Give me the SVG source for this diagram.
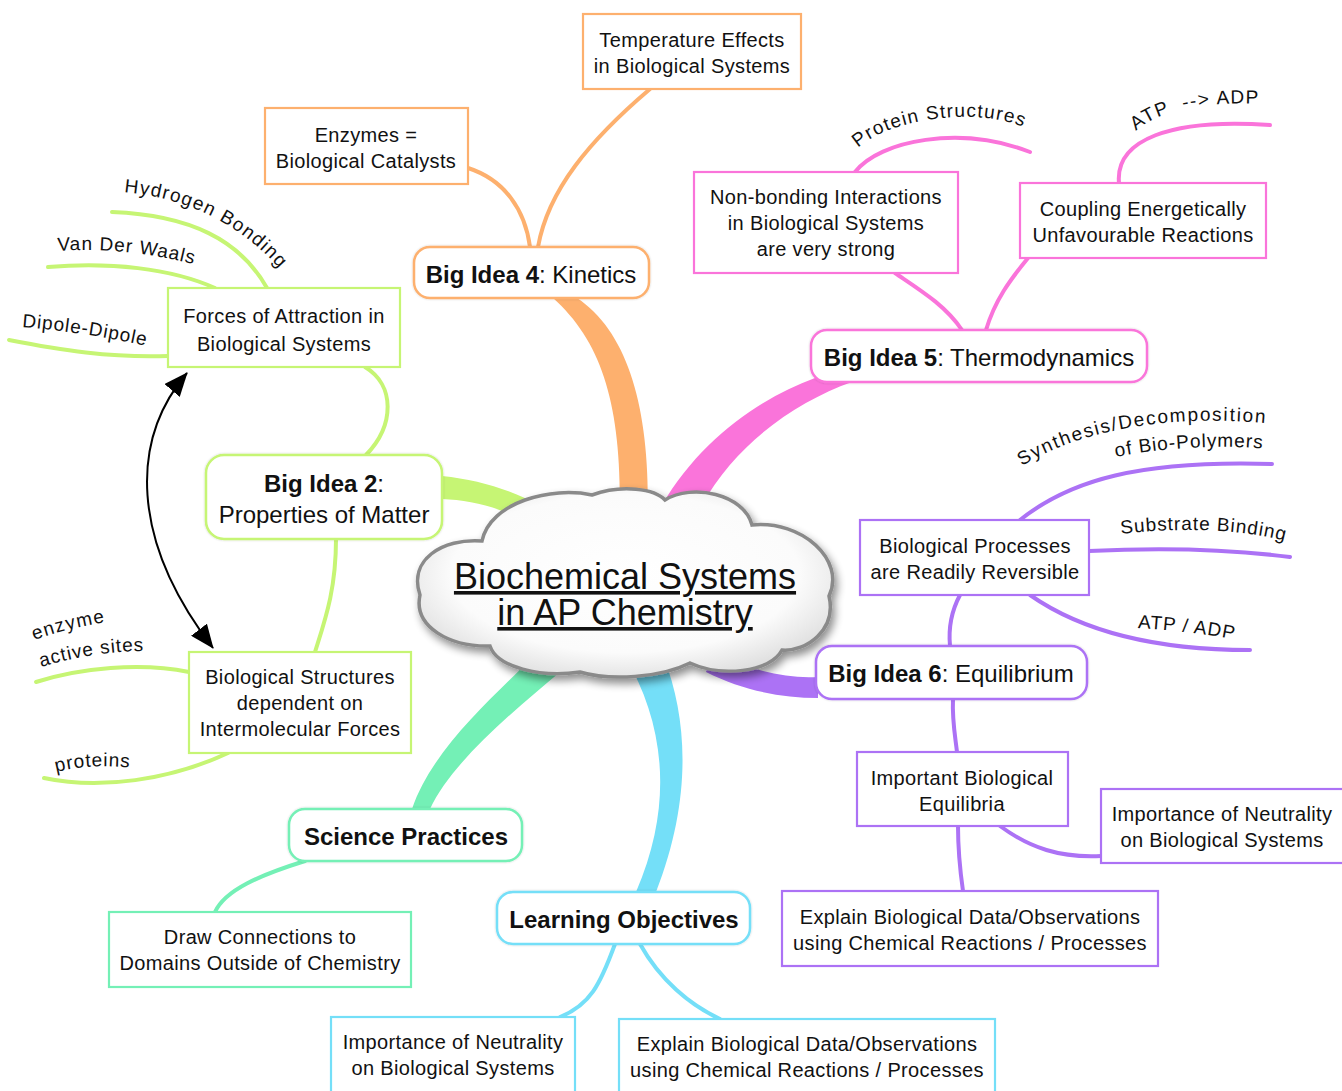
<svg xmlns="http://www.w3.org/2000/svg" width="1342" height="1091" viewBox="0 0 1342 1091">
<defs>
<radialGradient id="cloudFill" cx="50%" cy="45%" r="60%">
<stop offset="0" stop-color="#ffffff"/>
<stop offset="0.7" stop-color="#fbfbfb"/>
<stop offset="1" stop-color="#dcdcdc"/>
</radialGradient>
<filter id="shadow" x="-20%" y="-20%" width="140%" height="150%">
<feGaussianBlur in="SourceAlpha" stdDeviation="4"/>
<feOffset dx="3" dy="5" result="b"/>
<feComponentTransfer><feFuncA type="linear" slope="0.45"/></feComponentTransfer>
<feMerge><feMergeNode/><feMergeNode in="SourceGraphic"/></feMerge>
</filter>
<filter id="glow" x="-10%" y="-10%" width="120%" height="120%">
<feGaussianBlur in="SourceAlpha" stdDeviation="1.2"/>
<feComponentTransfer><feFuncA type="linear" slope="0.2"/></feComponentTransfer>
<feMerge><feMergeNode/><feMergeNode in="SourceGraphic"/></feMerge>
</filter>
<marker id="arr" viewBox="0 0 24 20" refX="23" refY="10" markerWidth="24" markerHeight="20" markerUnits="userSpaceOnUse" orient="auto-start-reverse">
<path d="M0 0 L24 10 L0 20 Z" fill="#000"/>
</marker>
<path id="tp-hb" d="M 124 192 C 190 198, 250 228, 290 282"/>
<path id="tp-vdw" d="M 58 251 C 100 248, 150 252, 200 266"/>
<path id="tp-dd" d="M 22 327 C 60 330, 100 336, 142 345"/>
<path id="tp-ps" d="M 858 148 C 890 118, 985 104, 1034 132"/>
<path id="tp-atp1" d="M 1136 131 C 1160 110, 1200 101, 1270 104"/>
<path id="tp-syn" d="M 1022 466 C 1080 430, 1170 413, 1275 424"/>
<path id="tp-bio" d="M 1116 457 C 1160 448, 1220 444, 1266 449"/>
<path id="tp-sub" d="M 1121 534 C 1180 527, 1240 529, 1286 541"/>
<path id="tp-atp2" d="M 1138 628 C 1170 630, 1210 634, 1242 641"/>
<path id="tp-enz" d="M 34 640 C 60 631, 85 625, 114 621"/>
<path id="tp-act" d="M 41 667 C 75 657, 110 651, 146 651"/>
<path id="tp-pro" d="M 56 772 C 80 766, 105 765, 133 768"/>
</defs>
<style>
text { font-family: "Liberation Sans", Arial, sans-serif; fill: #111; }
.sub { font-size: 20px; letter-spacing: 0.35px; text-anchor: middle; }
.main { font-size: 24px; text-anchor: middle; }
.b { font-weight: bold; }
.lbl { font-size: 19px; letter-spacing: 0.9px; }
.box { fill: #fff; stroke-width: 2.2; }
.mbox { fill: #fff; stroke-width: 2.5; }
.ln { fill: none; stroke-width: 4; stroke-linecap: round; }
.or { stroke: #FDB06E; } .orf { fill: #FDB06E; }
.pk { stroke: #FA74DA; } .pkf { fill: #FA74DA; }
.gr { stroke: #C6F574; } .grf { fill: #C6F574; }
.pu { stroke: #AC72F5; } .puf { fill: #AC72F5; }
.te { stroke: #74F0B6; } .tef { fill: #74F0B6; }
.cy { stroke: #74DFF8; } .cyf { fill: #74DFF8; }
</style>
<rect width="1342" height="1091" fill="#fff"/>

<g id="connectors">
<path class="orf" d="M 553 298 C 600 340, 620 400, 620 500 L 648 500 C 648 400, 625 330, 577 298 Z"/>
<path class="pkf" d="M 662 505 C 700 440, 760 398, 815 378 L 852 382 C 795 402, 735 445, 702 505 Z"/>
<path class="grf" d="M 442 476 C 480 480, 512 490, 545 508 L 525 522 C 500 507, 470 500, 442 499 Z"/>
<path class="puf" d="M 712 652 C 750 670, 785 679, 818 677 L 818 698 C 780 698, 742 690, 706 672 Z"/>
<path class="tef" d="M 532 658 C 490 700, 432 750, 412 809 L 430 809 C 452 762, 512 712, 565 668 Z"/>
<path class="cyf" d="M 626 658 C 662 720, 676 800, 636 892 L 656 892 C 692 800, 688 720, 664 658 Z"/>

<path class="ln or" d="M 538 247 C 548 190, 590 140, 650 89"/>
<path class="ln or" d="M 530 247 C 525 210, 505 180, 468 168"/>
<path class="ln pk" d="M 962 330 C 945 305, 920 290, 895 273"/>
<path class="ln pk" d="M 986 330 C 995 300, 1010 280, 1028 258"/>
<path class="ln pk" d="M 855 172 C 880 140, 960 125, 1030 152"/>
<path class="ln pk" d="M 1119 183 C 1115 140, 1170 118, 1270 125"/>
<path class="ln gr" d="M 365 367 C 395 385, 395 425, 366 455"/>
<path class="ln gr" d="M 336 539 C 336 590, 325 620, 315 652"/>
<path class="ln gr" d="M 267 288 C 240 240, 190 215, 112 212"/>
<path class="ln gr" d="M 215 288 C 170 268, 110 262, 48 267"/>
<path class="ln gr" d="M 168 356 C 110 358, 60 350, 9 340"/>
<path class="ln gr" d="M 189 672 C 140 662, 80 668, 36 682"/>
<path class="ln gr" d="M 228 753 C 170 780, 100 790, 44 778"/>
<path class="ln pu" d="M 950 646 C 948 625, 952 610, 960 595"/>
<path class="ln pu" d="M 953 699 C 952 720, 955 735, 957 752"/>
<path class="ln pu" d="M 1020 520 C 1070 480, 1140 460, 1272 464"/>
<path class="ln pu" d="M 1089 551 C 1150 548, 1220 548, 1290 557"/>
<path class="ln pu" d="M 1030 595 C 1080 630, 1150 650, 1250 650"/>
<path class="ln pu" d="M 958 826 C 958 850, 960 870, 963 891"/>
<path class="ln pu" d="M 1000 826 C 1030 848, 1060 858, 1101 856"/>
<path class="ln te" d="M 305 861 C 260 875, 225 890, 215 912"/>
<path class="ln cy" d="M 615 944 C 600 985, 590 1005, 560 1017"/>
<path class="ln cy" d="M 640 944 C 660 980, 690 1005, 720 1019"/>
<path d="M 187 373 C 130 440, 130 540, 213 648" fill="none" stroke="#000" stroke-width="2" marker-start="url(#arr)" marker-end="url(#arr)"/>
</g>

<g id="curved-labels">
<text class="lbl" style="letter-spacing:1.3px"><textPath href="#tp-hb">Hydrogen Bonding</textPath></text>
<text class="lbl"><textPath href="#tp-vdw">Van Der Waals</textPath></text>
<text class="lbl"><textPath href="#tp-dd">Dipole-Dipole</textPath></text>
<text class="lbl" style="letter-spacing:1.2px"><textPath href="#tp-ps">Protein Structures</textPath></text>
<text class="lbl" style="letter-spacing:1.4px" xml:space="preserve"><textPath href="#tp-atp1">ATP  --&gt; ADP</textPath></text>
<text class="lbl" style="letter-spacing:1.7px"><textPath href="#tp-syn">Synthesis/Decomposition</textPath></text>
<text class="lbl"><textPath href="#tp-bio">of Bio-Polymers</textPath></text>
<text class="lbl"><textPath href="#tp-sub">Substrate Binding</textPath></text>
<text class="lbl"><textPath href="#tp-atp2">ATP / ADP</textPath></text>
<text class="lbl" style="letter-spacing:1.3px"><textPath href="#tp-enz">enzyme</textPath></text>
<text class="lbl"><textPath href="#tp-act">active sites</textPath></text>
<text class="lbl"><textPath href="#tp-pro">proteins</textPath></text>
</g>

<g id="center">
<path filter="url(#shadow)" d="M 420 595 C 408 560, 442 538, 482 541 C 490 502, 552 486, 592 495 C 622 484, 655 489, 665 500 C 692 483, 744 494, 752 525 C 802 520, 846 560, 829 596 C 837 630, 806 652, 782 650 C 770 673, 720 677, 690 663 C 660 678, 610 681, 580 672 C 540 678, 497 667, 490 646 C 450 647, 413 627, 420 595 Z" fill="url(#cloudFill)" stroke="#8a8a8a" stroke-width="3.5"/>
<text x="625" y="589" style="font-size:36px;text-anchor:middle;text-decoration:underline">Biochemical Systems</text>
<text x="625" y="625" style="font-size:36px;text-anchor:middle;text-decoration:underline">in AP Chemistry</text>
</g>

<g id="kinetics">
<rect class="mbox or" x="414" y="247" width="235" height="51" rx="16" filter="url(#glow)"/>
<text class="main" x="531" y="283"><tspan class="b">Big Idea 4</tspan>: Kinetics</text>
</g>
<g id="temperature">
<rect class="box or" x="583" y="14" width="218" height="75"/>
<text class="sub" x="692" y="47">Temperature Effects</text>
<text class="sub" x="692" y="73">in Biological Systems</text>
</g>
<g id="enzymes">
<rect class="box or" x="265" y="108" width="203" height="76"/>
<text class="sub" x="366" y="142">Enzymes =</text>
<text class="sub" x="366" y="168">Biological Catalysts</text>
</g>

<g id="thermo">
<rect class="mbox pk" x="811" y="330" width="336" height="52" rx="16" filter="url(#glow)"/>
<text class="main" x="979" y="366"><tspan class="b">Big Idea 5</tspan>: Thermodynamics</text>
</g>
<g id="nonbonding">
<rect class="box pk" x="694" y="172" width="264" height="101"/>
<text class="sub" x="826" y="204">Non-bonding Interactions</text>
<text class="sub" x="826" y="230">in Biological Systems</text>
<text class="sub" x="826" y="256">are very strong</text>
</g>
<g id="coupling">
<rect class="box pk" x="1020" y="183" width="246" height="75"/>
<text class="sub" x="1143" y="216">Coupling Energetically</text>
<text class="sub" x="1143" y="242">Unfavourable Reactions</text>
</g>

<g id="bigidea2">
<rect class="mbox gr" x="206" y="455" width="236" height="84" rx="18" filter="url(#glow)"/>
<text class="main" x="324" y="492"><tspan class="b">Big Idea 2</tspan>:</text>
<text class="main" x="324" y="523">Properties of Matter</text>
</g>
<g id="forces">
<rect class="box gr" x="168" y="288" width="232" height="79"/>
<text class="sub" x="284" y="323">Forces of Attraction in</text>
<text class="sub" x="284" y="351">Biological Systems</text>
</g>
<g id="structures">
<rect class="box gr" x="189" y="652" width="222" height="101"/>
<text class="sub" x="300" y="684">Biological Structures</text>
<text class="sub" x="300" y="710">dependent on</text>
<text class="sub" x="300" y="736">Intermolecular Forces</text>
</g>

<g id="equilibrium">
<rect class="mbox pu" x="816" y="646" width="271" height="53" rx="16" filter="url(#glow)"/>
<text class="main" x="951" y="682"><tspan class="b">Big Idea 6</tspan>: Equilibrium</text>
</g>
<g id="processes">
<rect class="box pu" x="860" y="520" width="229" height="75"/>
<text class="sub" x="975" y="553">Biological Processes</text>
<text class="sub" x="975" y="579">are Readily Reversible</text>
</g>
<g id="equilibria">
<rect class="box pu" x="857" y="752" width="211" height="74"/>
<text class="sub" x="962" y="785">Important Biological</text>
<text class="sub" x="962" y="811">Equilibria</text>
</g>
<g id="neutrality-right">
<rect class="box pu" x="1101" y="789" width="245" height="74"/>
<text class="sub" x="1222" y="821">Importance of Neutrality</text>
<text class="sub" x="1222" y="847">on Biological Systems</text>
</g>
<g id="explain-purple">
<rect class="box pu" x="782" y="891" width="376" height="75"/>
<text class="sub" x="970" y="924">Explain Biological Data/Observations</text>
<text class="sub" x="970" y="950">using Chemical Reactions / Processes</text>
</g>

<g id="science">
<rect class="mbox te" x="289" y="809" width="233" height="52" rx="16" filter="url(#glow)"/>
<text class="main b" x="406" y="845">Science Practices</text>
</g>
<g id="draw">
<rect class="box te" x="109" y="912" width="302" height="75"/>
<text class="sub" x="260" y="944">Draw Connections to</text>
<text class="sub" x="260" y="970">Domains Outside of Chemistry</text>
</g>

<g id="learning">
<rect class="mbox cy" x="497" y="892" width="253" height="52" rx="16" filter="url(#glow)"/>
<text class="main b" x="624" y="928">Learning Objectives</text>
</g>
<g id="neutrality-bottom">
<rect class="box cy" x="331" y="1017" width="244" height="80"/>
<text class="sub" x="453" y="1049">Importance of Neutrality</text>
<text class="sub" x="453" y="1075">on Biological Systems</text>
</g>
<g id="explain-cyan">
<rect class="box cy" x="619" y="1019" width="376" height="80"/>
<text class="sub" x="807" y="1051">Explain Biological Data/Observations</text>
<text class="sub" x="807" y="1077">using Chemical Reactions / Processes</text>
</g>
</svg>
